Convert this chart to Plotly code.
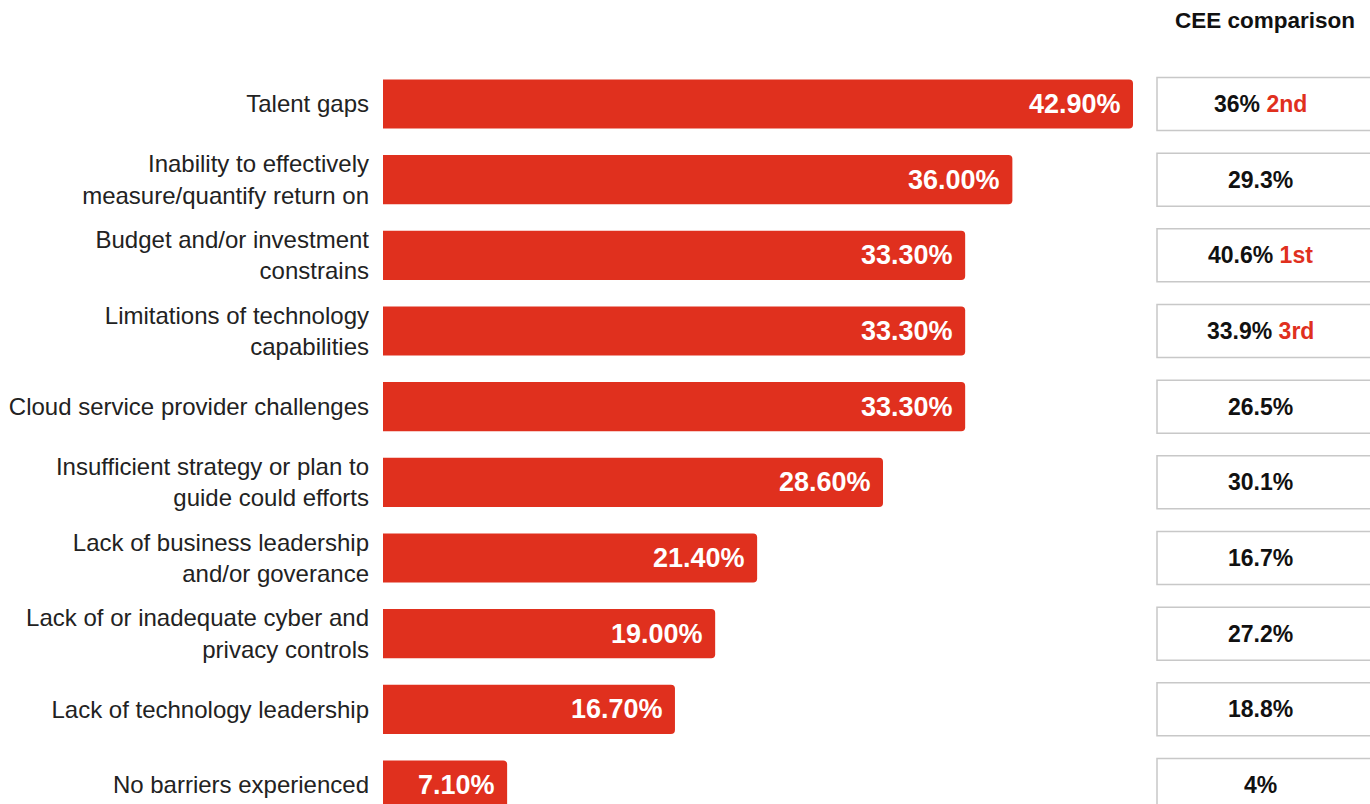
import plotly.graph_objects as go

categories = [
    "Talent gaps",
    "Inability to effectively<br>measure/quantify return on",
    "Budget and/or investment<br>constrains",
    "Limitations of technology<br>capabilities",
    "Cloud service provider challenges",
    "Insufficient strategy or plan to<br>guide could efforts",
    "Lack of business leadership<br>and/or goverance",
    "Lack of or inadequate cyber and<br>privacy controls",
    "Lack of technology leadership",
    "No barriers experienced",
]
values = [42.9, 36.0, 33.3, 33.3, 33.3, 28.6, 21.4, 19.0, 16.7, 7.1]
cee_values = ["36%", "29.3%", "40.6%", "33.9%", "26.5%", "30.1%", "16.7%", "27.2%", "18.8%", "4%"]
cee_ranks = ["2nd", "", "1st", "3rd", "", "", "", "", "", ""]

W, H = 1370, 804
RED = "#e0301e"
FONT = "Liberation Sans, Arial, sans-serif"

pos = list(range(len(categories)))

fig = go.Figure()
fig.add_trace(go.Bar(
    x=values, y=pos, orientation="h",
    marker=dict(color=RED, line=dict(width=0)),
    width=0.65,
    hoverinfo="skip",
))

annotations = []
for i, v in enumerate(values):
    annotations.append(dict(
        x=v, y=i, xref="x", yref="y", text=f"{v:.2f}%",
        xanchor="right", yanchor="middle", xshift=-10, showarrow=False,
        font=dict(family=FONT, size=27, color="white", weight="bold"),
    ))

shapes = []
box_x0 = 1157 / W
box_x1 = 1.01
for i, (cv, rk) in enumerate(zip(cee_values, cee_ranks)):
    shapes.append(dict(
        type="rect", xref="paper", yref="y",
        x0=box_x0, x1=box_x1, y0=i - 0.35, y1=i + 0.35,
        line=dict(color="#c8c8c8", width=1.5), fillcolor="white", layer="below",
    ))
    txt = f"<b>{cv}</b>"
    if rk:
        txt += f" <b><span style='color:{RED}'>{rk}</span></b>"
    annotations.append(dict(
        x=1260 / W, y=i, xref="paper", yref="y", text=txt,
        xanchor="center", yanchor="middle", showarrow=False,
        font=dict(family=FONT, size=23, color="#111"),
    ))

annotations.append(dict(
    x=1265 / W, y=1 - 20 / H, xref="paper", yref="paper",
    text="<b>CEE comparison</b>", xanchor="center", yanchor="middle",
    showarrow=False, font=dict(family=FONT, size=22.5, color="#111"),
))

px_per_unit = (1133 - 383) / 42.9
x_dom0 = 383 / W
x_dom1 = 1145 / W
x_max = (1145 - 383) / px_per_unit

top_px, bot_px = 0, H
row_h = (785 - 104) / 9
y_top = -(104 - top_px) / row_h
y_bot = 9 + (bot_px - 785) / row_h

fig.update_layout(
    width=W, height=H,
    margin=dict(l=0, r=0, t=0, b=0),
    paper_bgcolor="white", plot_bgcolor="white",
    showlegend=False,
    barcornerradius=4,
    font=dict(family=FONT, color="#222"),
    xaxis=dict(domain=[x_dom0, x_dom1], range=[0, x_max], visible=False, fixedrange=True),
    yaxis=dict(
        range=[y_bot, y_top], tickvals=pos, ticktext=categories,
        showgrid=False, zeroline=False, showline=False, ticks="",
        ticklabelstandoff=13, automargin=False,
        tickfont=dict(family=FONT, size=24, color="#222"),
    ),
    annotations=annotations,
    shapes=shapes,
)

fig.write_html("out.html")
